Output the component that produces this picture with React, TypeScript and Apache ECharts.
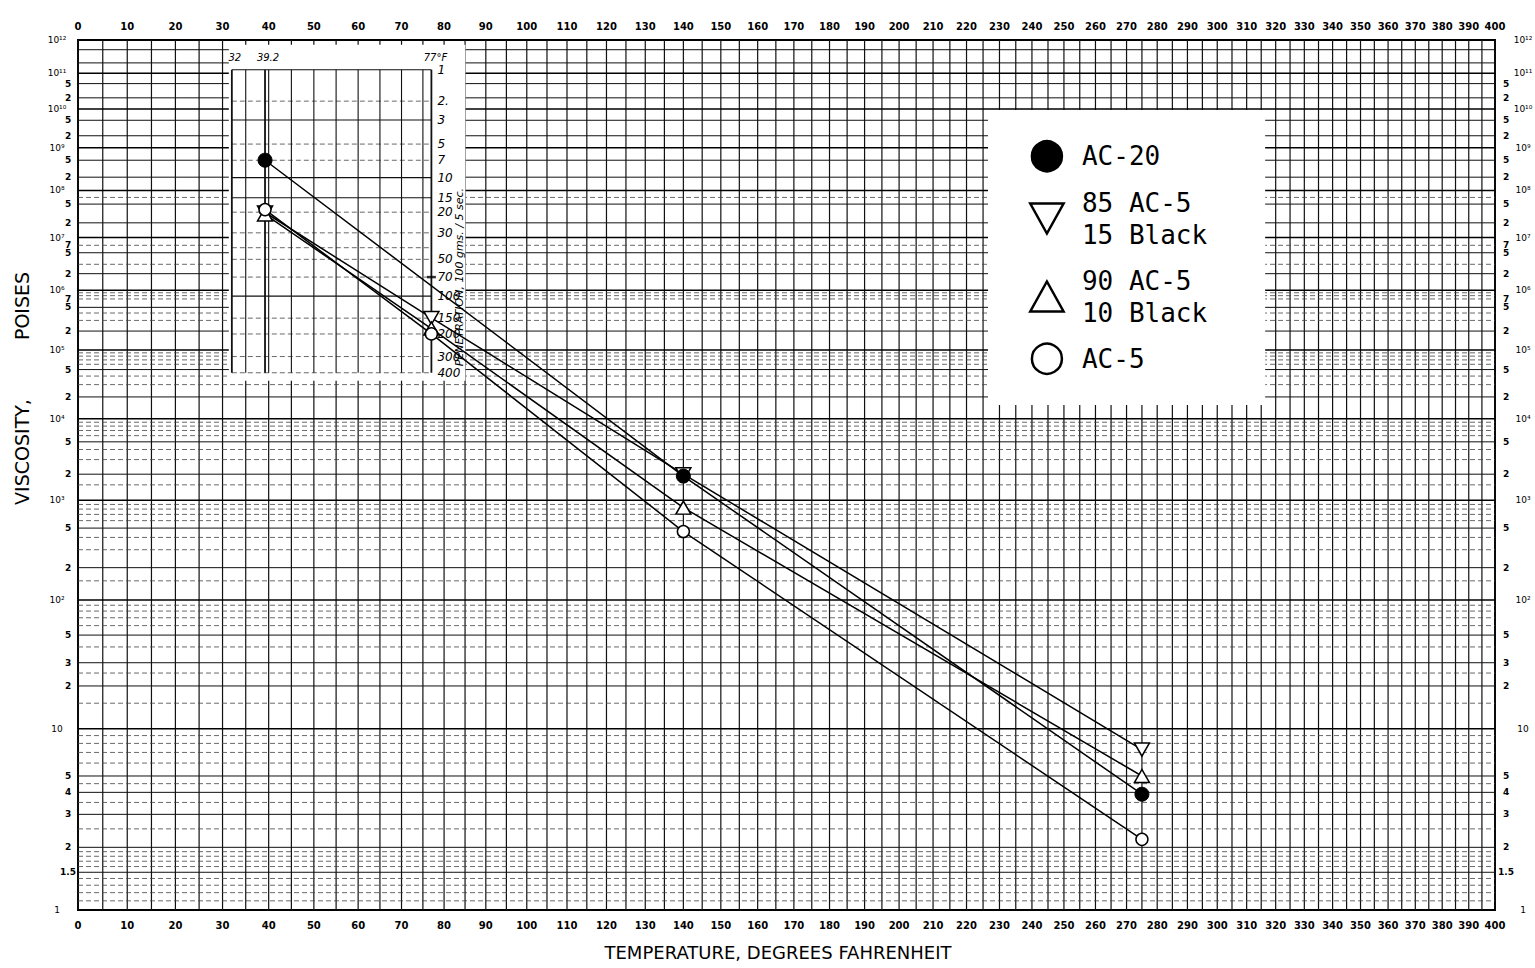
import { useEffect, useRef } from "react";
import * as echarts from "echarts";

// ---------------- DATA ----------------
// Temperature axis (degrees Fahrenheit)
const TEMP_TICK_LABELS = [0, 10, 20, 30, 40, 50, 60, 70, 80, 90, 100, 110, 120, 130, 140, 150, 160, 170, 180, 190, 200, 210, 220, 230, 240, 250, 260, 270, 280, 290, 300, 310, 320, 330, 340, 350, 360, 370, 380, 390, 400];
const TEMP_GRID_LINES = [0, 5, 10, 15, 20, 25, 30, 35, 40, 45, 50, 55, 60, 65, 70, 75, 80, 85, 90, 95, 100, 105, 110, 115, 120, 125, 130, 135, 140, 145, 150, 155, 160, 165, 170, 175, 180, 185, 190, 195, 200, 205, 210, 215, 220, 225, 230, 235, 240, 245, 250, 255, 260, 265, 270, 275, 280, 285, 290, 295, 300, 305, 310, 315, 320, 325, 330, 335, 340, 345, 350, 355, 360, 365, 370, 375, 380, 385, 390, 395, 400];

// Viscosity axis (poises)
const VISC_DECADES = [1, 10, 1e2, 1e3, 1e4, 1e5, 1e6, 1e7, 1e8, 1e9, 1e10, 1e11, 1e12];
const VISC_DECADE_TEXT = ["1", "10", "10²", "10³", "10⁴", "10⁵", "10⁶", "10⁷", "10⁸", "10⁹", "10¹⁰", "10¹¹", "10¹²"];
const VISC_MINOR_VALUES = [1.5, 2, 3, 4, 5, 20, 30, 50, 200, 500, 2e3, 5e3, 2e4, 5e4, 2e5, 5e5, 7e5, 2e6, 5e6, 7e6, 2e7, 5e7, 2e8, 5e8, 2e9, 5e9, 2e10, 5e10];
const VISC_MINOR_TEXT = ["1.5", "2", "3", "4", "5", "2", "3", "5", "2", "5", "2", "5", "2", "5", "2", "5", "7", "2", "5", "7", "2", "5", "2", "5", "2", "5", "2", "5"];
// grid-line multipliers inside each decade (1-10, 10-100, ...)
const H_GRID_MULT = [
  [1.1, 1.2, 1.3, 1.4, 1.5, 1.6, 1.7, 1.8, 1.9, 2, 2.5, 3, 3.5, 4, 4.5, 5, 6, 7, 8, 9],
  [1.5, 2, 2.5, 3, 4, 5, 6, 7, 8, 9],
  [1.5, 2, 3, 4, 5, 6, 7, 8, 9],
  [1.5, 2, 3, 4, 5, 6, 7, 8, 9],
  [2, 3, 4, 5, 6, 7, 8, 9],
  [2, 3, 4, 5, 7, 8, 9],
  [2, 3, 5, 7],
  [2, 5, 7],
  [2, 5],
  [2, 5],
  [2, 5],
  [2, 5],
];

// Inset: penetration (100 g, 5 s) scale
const INSET_TEMPS = [32, 35, 39.2, 40, 45, 50, 55, 60, 65, 70, 75, 77];
const INSET_PENS = [1, 2, 3, 5, 7, 10, 15, 20, 30, 40, 50, 70, 100, 150, 200, 300, 400];
const INSET_PEN_SOLID = [1, 3, 10, 15, 100];
const INSET_PEN_LABELS = [1, 2, 3, 5, 7, 10, 15, 20, 30, 50, 70, 100, 150, 200, 300, 400];
const INSET_PEN_TEXT = ["1", "2.", "3", "5", "7", "10", "15", "20", "30", "50", "70", "100", "150", "200", "300", "400"];
const INSET_TEMP_TEXT = ["32", "39.2", "77°F"];
const INSET_TEMP_TEXT_AT = [32, 39.2, 77];
// penetration -> viscosity relation used by the chart: log η = a + b·logP + c·(logP)²
const PEN_VISC_COEF = [11.1, -3.017, 0.207];
const AC20_PEN_77 = 70;

// Series (temperature °F, viscosity poises)
const AC20_TEMPS = [39.2, 140, 275];
const AC20_VISC = [5.0e8, 1900, 3.9];
const B85_TEMPS = [39.2, 77, 140, 275];
const B85_VISC = [3.3e7, 3.3e5, 2000, 7.3];
const B90_TEMPS = [39.2, 77, 140, 275];
const B90_VISC = [3.0e7, 2.2e5, 830, 5.0];
const AC5_TEMPS = [39.2, 77, 140, 275];
const AC5_VISC = [3.8e7, 1.8e5, 460, 2.2];

const NAME_AC20 = "AC-20";
const NAME_B85 = "85 AC-5\n15 Black";
const NAME_B90 = "90 AC-5\n10 Black";
const NAME_AC5 = "AC-5";

// ---------------- SCALES ----------------
const tx = (t: number) => Math.log10(t + 440);
const ty = (v: number) => Math.log10(Math.log10(v) + 2);
const penToVisc = (p: number) => {
  const l = Math.log10(p);
  return Math.pow(10, PEN_VISC_COEF[0] + PEN_VISC_COEF[1] * l + PEN_VISC_COEF[2] * l * l);
};
const penY = (p: number) => ty(penToVisc(p));

const X_MIN = tx(0);
const X_MAX = tx(400);
const Y_MIN = ty(1);
const Y_MAX = ty(1e12);

const TICK_FONT = { fontFamily: "DejaVu Sans", fontWeight: "bold" as const, fontSize: 10, fill: "#000" };

function txt(x: number, y: number, text: string, extra: any = {}, align = "center", vAlign = "middle") {
  return {
    type: "text",
    x,
    y,
    silent: true,
    style: { text, align, verticalAlign: vAlign, textAlign: align, textVerticalAlign: vAlign, ...TICK_FONT, ...extra },
  };
}
function seg(a: number[], b: number[], w: number, color = "#000", dash?: number[]) {
  const style: any = { stroke: color, lineWidth: w };
  if (dash) style.lineDash = dash;
  return { type: "line", silent: true, shape: { x1: a[0], y1: a[1], x2: b[0], y2: b[1] }, style };
}

function buildOption() {
  // horizontal grid lines
  const hLines: { v: number; kind: number }[] = [];
  for (let d = 0; d < H_GRID_MULT.length; d++) {
    if (d > 0) hLines.push({ v: VISC_DECADES[d], kind: 0 });
    for (const m of H_GRID_MULT[d]) {
      const solid = m === 2 || m === 5 || (d <= 1 && m === 3) || (d === 0 && (m === 4 || m === 1.5));
      hLines.push({ v: VISC_DECADES[d] * m, kind: solid ? 1 : 2 });
    }
  }
  const viscLabels = [
    ...VISC_DECADES.map((v, i) => ({ v, text: VISC_DECADE_TEXT[i], decade: true })),
    ...VISC_MINOR_VALUES.map((v, i) => ({ v, text: VISC_MINOR_TEXT[i], decade: false })),
  ];

  const mk = (temps: number[], visc: number[]) => temps.map((t, i) => [tx(t), ty(visc[i])]);
  const titleStyle = (text: string, size: number) => ({
    text,
    font: `${size}px 'DejaVu Sans'`,
    fill: "#000",
    textAlign: "center",
    textVerticalAlign: "middle",
    align: "center",
    verticalAlign: "middle",
  });

  return {
    animation: false,
    backgroundColor: "#fff",
    grid: { left: 78, right: 40, top: 40, bottom: 58, show: true, borderColor: "#000", borderWidth: 2, backgroundColor: "#fff" },
    xAxis: { type: "value", min: X_MIN, max: X_MAX, show: false },
    yAxis: { type: "value", min: Y_MIN, max: Y_MAX, show: false },
    legend: {
      orient: "vertical",
      left: 988,
      top: 110,
      z: 10,
      backgroundColor: "#fff",
      padding: [30, 58, 30, 41],
      itemWidth: 60,
      itemHeight: 30,
      itemGap: 14,
      selectedMode: false,
      itemStyle: { borderColor: "#000", borderWidth: 2.5 },
      textStyle: { fontFamily: "DejaVu Sans Mono", fontSize: 26, lineHeight: 32, color: "#000" },
      data: [
        { name: NAME_AC20, icon: "circle" },
        { name: NAME_B85, icon: "path://M0,0L20,0L10,18Z" },
        { name: NAME_B90, icon: "path://M10,0L20,18L0,18Z" },
        { name: NAME_AC5, icon: "circle" },
      ],
    },
    graphic: [
      { type: "text", x: 22, y: 452, rotation: Math.PI / 2, silent: true, style: titleStyle("VISCOSITY,", 19) },
      { type: "text", x: 22, y: 306, rotation: Math.PI / 2, silent: true, style: titleStyle("POISES", 19) },
      { type: "text", x: 778, y: 952, silent: true, style: titleStyle("TEMPERATURE, DEGREES FAHRENHEIT", 18) },
    ],
    series: [
      {
        type: "custom",
        name: "gridV",
        silent: true,
        z: 1,
        data: TEMP_GRID_LINES.map((t) => [tx(t), Y_MIN]),
        renderItem: (_p: any, api: any) => {
          const x = api.value(0);
          return seg(api.coord([x, Y_MIN]), api.coord([x, Y_MAX]), 1.2, "#111");
        },
      },
      {
        type: "custom",
        name: "gridH",
        silent: true,
        z: 1,
        data: hLines.map((h) => [X_MIN, ty(h.v)]),
        renderItem: (p: any, api: any) => {
          const h = hLines[p.dataIndex];
          const y = api.value(1);
          const a = api.coord([X_MIN, y]);
          const b = api.coord([X_MAX, y]);
          if (h.kind === 0) return seg(a, b, 1.5, "#000");
          if (h.kind === 1) return seg(a, b, 1, "#111");
          return seg(a, b, 0.8, "#444", [5, 3]);
        },
      },
      {
        type: "custom",
        name: "tempLabels",
        silent: true,
        z: 2,
        data: TEMP_TICK_LABELS.map((t) => [tx(t), Y_MIN]),
        renderItem: (p: any, api: any) => {
          const x = api.value(0);
          const bot = api.coord([x, Y_MIN]);
          const top = api.coord([x, Y_MAX]);
          const t = String(TEMP_TICK_LABELS[p.dataIndex]);
          return { type: "group", children: [txt(bot[0], bot[1] + 15, t), txt(top[0], top[1] - 14, t)] };
        },
      },
      {
        type: "custom",
        name: "viscLabels",
        silent: true,
        z: 2,
        data: viscLabels.map((l) => [X_MIN, ty(l.v)]),
        renderItem: (p: any, api: any) => {
          const l = viscLabels[p.dataIndex];
          const y = api.value(1);
          const left = api.coord([X_MIN, y]);
          const right = api.coord([X_MAX, y]);
          const f = l.decade ? { fontSize: 9, fontWeight: "normal" } : { fontSize: 9 };
          return {
            type: "group",
            children: [
              txt(left[0] - (l.decade ? 21 : 10), left[1], l.text, f),
              txt(right[0] + (l.decade ? 28 : 11), right[1], l.text, f),
            ],
          };
        },
      },
      {
        type: "custom",
        name: "inset",
        silent: true,
        z: 3,
        data: [[tx(77), penY(1)]],
        renderItem: (_p: any, api: any) => {
          const xL = api.coord([tx(32), penY(1)])[0];
          const xR = api.coord([tx(77), penY(1)])[0];
          const yT = api.coord([tx(77), penY(1)])[1];
          const yB = api.coord([tx(77), penY(400)])[1];
          const children: any[] = [];
          children.push({ type: "rect", silent: true, shape: { x: xL - 3, y: yT - 25, width: xR + 34 - (xL - 3), height: yB + 8 - (yT - 25) }, style: { fill: "#fff" } });
          for (const pn of INSET_PENS) {
            const y = api.coord([tx(77), penY(pn)])[1];
            const solid = INSET_PEN_SOLID.indexOf(pn) >= 0;
            children.push(seg([xL, y], [xR, y], solid ? 1.1 : 0.8, solid ? "#111" : "#444", solid ? undefined : [5, 3]));
          }
          for (const t of INSET_TEMPS) {
            const x = api.coord([tx(t), penY(1)])[0];
            const thick = t === 32 || t === 39.2 || t === 77;
            children.push(seg([x, yT], [x, yB], thick ? 1.8 : 1.1, "#111"));
          }
          const it = { fontFamily: "DejaVu Sans", fontStyle: "italic", fontWeight: "normal", fontSize: 12 };
          INSET_PEN_LABELS.forEach((pn, i) => {
            const y = api.coord([tx(77), penY(pn)])[1];
            children.push(txt(xR + 6, y, INSET_PEN_TEXT[i], it, "left"));
          });
          INSET_TEMP_TEXT_AT.forEach((t, i) => {
            const x = api.coord([tx(t), penY(1)])[0];
            children.push(txt(x + (i === 2 ? 4 : 3), yT - 12, INSET_TEMP_TEXT[i], { ...it, fontSize: 10 }));
          });
          const yMid = api.coord([tx(77), penY(AC20_PEN_77)])[1];
          children.push({
            type: "text",
            x: xR + 28,
            y: yMid,
            rotation: Math.PI / 2,
            silent: true,
            style: { text: "PENETRATION, 100 gms. / 5 sec.", align: "center", verticalAlign: "middle", textAlign: "center", textVerticalAlign: "middle", fontFamily: "DejaVu Sans", fontStyle: "italic", fontSize: 11, fill: "#000" },
          });
          return { type: "group", children };
        },
      },
      {
        type: "line",
        name: NAME_B85,
        z: 5,
        data: mk(B85_TEMPS, B85_VISC),
        symbol: "triangle",
        symbolRotate: 180,
        symbolSize: [15, 13],
        itemStyle: { color: "#fff", borderColor: "#000", borderWidth: 1.5 },
        lineStyle: { color: "#000", width: 1.5 },
      },
      {
        type: "line",
        name: NAME_B90,
        z: 5,
        data: mk(B90_TEMPS, B90_VISC),
        symbol: "triangle",
        symbolSize: [15, 13],
        itemStyle: { color: "#fff", borderColor: "#000", borderWidth: 1.5 },
        lineStyle: { color: "#000", width: 1.5 },
      },
      {
        type: "line",
        name: NAME_AC5,
        z: 5,
        data: mk(AC5_TEMPS, AC5_VISC),
        symbol: "circle",
        symbolSize: 12,
        itemStyle: { color: "#fff", borderColor: "#000", borderWidth: 1.5 },
        lineStyle: { color: "#000", width: 1.5 },
      },
      {
        type: "line",
        name: NAME_AC20,
        z: 5,
        data: mk(AC20_TEMPS, AC20_VISC),
        symbol: "circle",
        symbolSize: 14,
        itemStyle: { color: "#000", borderColor: "#000", borderWidth: 1 },
        lineStyle: { color: "#000", width: 1.5 },
      },
      {
        type: "scatter",
        name: "AC-20 penetration 77°F",
        z: 6,
        silent: true,
        data: [[tx(77), penY(AC20_PEN_77)]],
        symbol: "rect",
        symbolSize: [9, 2.5],
        itemStyle: { color: "#000" },
      },
    ],
  };
}

export default function App() {
  const ref = useRef<HTMLDivElement>(null);
  useEffect(() => {
    const el = ref.current;
    if (!el) return;
    const chart = echarts.init(el, null, { renderer: "svg" });
    chart.setOption(buildOption() as any);
    return () => chart.dispose();
  }, []);
  return (
    <div
      ref={ref}
      style={{ position: "fixed", left: 0, top: 0, width: 1535, height: 968, background: "#fff" }}
    />
  );
}
